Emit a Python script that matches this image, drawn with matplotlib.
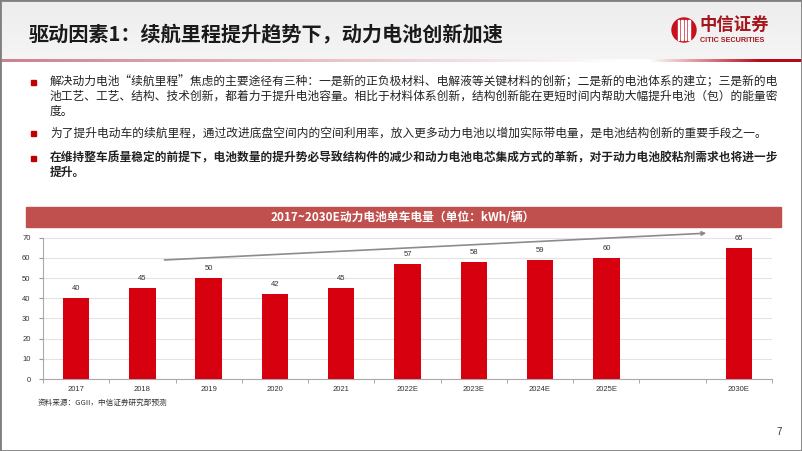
import matplotlib.pyplot as plt
import numpy as np
from matplotlib.patches import Rectangle, Ellipse

plt.rcParams['font.family'] = ['Noto Sans CJK SC', 'DejaVu Sans']

# data
years = ["2017", "2018", "2019", "2020", "2021", "2022E", "2023E", "2024E", "2025E", "", "2030E"]
kwh = [40, 45, 50, 42, 45, 57, 58, 59, 60, None, 65]
y_ticks = [0, 10, 20, 30, 40, 50, 60, 70]

title = "驱动因素1：续航里程提升趋势下，动力电池创新加速"
chart_title = "2017~2030E动力电池单车电量（单位：kWh/辆）"
source = "资料来源：GGII，中信证券研究部预测"
bullets = [
    (["解决动力电池“续航里程”焦虑的主要途径有三种：一是新的正负极材料、电解液等关键材料的创新；二是新的电池体系的建立；三是新的电",
      "池工艺、工艺、结构、技术创新，都着力于提升电池容量。相比于材料体系创新，结构创新能在更短时间内帮助大幅提升电池（包）的能量密",
      "度。"], "normal"),
    (["为了提升电动车的续航里程，通过改进底盘空间内的空间利用率，放入更多动力电池以增加实际带电量，是电池结构创新的重要手段之一。"], "normal"),
    (["在维持整车质量稳定的前提下，电池数量的提升势必导致结构件的减少和动力电池电芯集成方式的革新，对于动力电池胶粘剂需求也将进一步",
      "提升。"], "bold"),
]
bullet_rows = [82, 133, 158]

W, H = 802, 451
fig = plt.figure(figsize=(W / 100, H / 100), dpi=100)

def fx(px):
    return px / W

def fy(py):
    return 1 - py / H

# header band
grad = np.linspace(0.93, 0.96, 50).reshape(-1, 1)
hax = fig.add_axes([0, fy(59), 1, 59 / H])
hax.imshow(np.dstack([grad, grad, grad]), aspect='auto', extent=[0, 1, 0, 1])
hax.axis('off')

# red line under header, fading in the middle
lax = fig.add_axes([0, fy(62), 1, 3 / H])
xs = np.linspace(0, 1, 400)
left_c = np.array([0.78, 0.45, 0.50])
red_c = np.array([0.70, 0.04, 0.10])
alpha = np.clip(1 - xs / 0.78, 0, 1) * 0.9 + np.clip((xs - 0.81) / 0.14, 0, 1)
alpha = np.clip(alpha, 0, 1)
col = np.where(xs[:, None] < 0.8, left_c, red_c)
img = 1 - alpha[:, None] * (1 - col)
lax.imshow(img[None, :, :], aspect='auto', extent=[0, 1, 0, 1])
lax.axis('off')

fig.text(fx(29), fy(35), title, fontsize=14.5, fontweight='bold', color='#1a1a1a', va='center')

# logo
fig.patches.append(Ellipse((fx(684), fy(30)), 24 / W, 24 / H, transform=fig.transFigure,
                           color='#c8101e', zorder=5))
for dx in [-5.5, -2, 1.5, 5]:
    fig.patches.append(Rectangle((fx(684 + dx - 0.9), fy(40)), 1.8 / W, 20 / H,
                                 transform=fig.transFigure, color='white', zorder=6))
fig.text(fx(699), fy(25), "中信证券", fontsize=12.5, fontweight='bold', color='#a5151c',
         va='center')
fig.text(fx(700), fy(41), "CITIC SECURITIES", fontsize=5.2, fontweight='bold', color='#a5151c',
         va='center', family='Liberation Sans')

# bullets
for (lines, weight), row in zip(bullets, bullet_rows):
    fig.patches.append(Rectangle((fx(31), fy(row + 2.5)), 4.5 / W, 4.5 / H,
                                 transform=fig.transFigure, color='#c00000'))
    for i, line in enumerate(lines):
        fig.text(fx(50), fy(row + i * 14.5), line, fontsize=8.45, fontweight=weight,
                 color='#222222', va='center')

# chart banner
fig.patches.append(Rectangle((fx(26), fy(227)), (781 - 26) / W, 20 / H,
                             transform=fig.transFigure, color='#c0504d'))
fig.text(fx(403), fy(217), chart_title, fontsize=8.5, fontweight='bold', color='white',
         ha='center', va='center')

# bar chart
ax = fig.add_axes([fx(43), fy(379), (772 - 43) / W, (379 - 237.7) / H])
x = np.arange(len(years))
vals = [v if v is not None else 0 for v in kwh]
bars = ax.bar(x, vals, width=0.4, color='#d7000f', zorder=3)
for xi, v in zip(x, kwh):
    if v is not None:
        ax.text(xi, v + 3, str(v), ha='center', va='bottom', fontsize=5.5,
                color='#333333', family='Liberation Sans')
ax.set_xlim(-0.5, len(years) - 0.5)
ax.set_ylim(0, 70)
ax.set_yticks(y_ticks)
ax.set_yticklabels([str(t) for t in y_ticks], fontsize=5.5, color='#333333', family='Liberation Sans')
ax.set_xticks(x)
ax.set_xticklabels(years, fontsize=5.5, color='#333333', family='Liberation Sans')
ax.set_xticks(np.arange(len(years) + 1) - 0.5, minor=True)
ax.tick_params(axis='x', which='major', length=0, pad=5)
ax.tick_params(axis='x', which='minor', length=3, color='#999999')
ax.tick_params(axis='y', length=3, color='#999999', pad=6)
ax.grid(axis='y', color='#e3e3e3', linewidth=0.8, zorder=0)
for s in ['top', 'right']:
    ax.spines[s].set_visible(False)
ax.spines['left'].set_color('#aaaaaa')
ax.spines['bottom'].set_color('#aaaaaa')

# trend arrow
ax.annotate('', xy=(9.55, 72.3), xytext=(1.29, 58.9),
            arrowprops=dict(arrowstyle='-|>', color='#8c8c8c', lw=1.2, mutation_scale=6),
            annotation_clip=False)

fig.text(fx(38), fy(403), source, fontsize=5.5, color='#333333', va='center')
fig.text(fx(776), fy(432), "7", fontsize=7, color='#333333', va='center', family='Liberation Sans')

# slide frame
fig.patches.append(Rectangle((0, 0), 1, 1, transform=fig.transFigure, fill=False,
                             edgecolor='#7f7f7f', linewidth=2, zorder=10))

fig.savefig("out.png", dpi=100)
